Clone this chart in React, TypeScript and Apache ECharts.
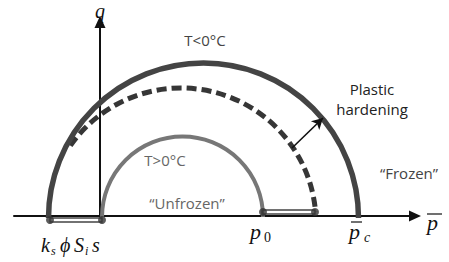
import React, { useEffect, useRef } from "react";
import * as echarts from "echarts";

// Yield-surface arcs (data units: p along the horizontal axis, q along the vertical axis)
const arcNames = ["T<0°C", "hardening", "T>0°C"];
const arcCenterP = [10.35, 8.1, 8.25];
const arcCenterQ = [-0.2, -0.7, -0.1];
const arcRadius = [15.5, 13.5, 8.05];
const arcStartDeg = [180, 145, 180];
const arcEndDeg = [0, 4.7, 0];

// end-point dots
const dotP = [-5.0, 0.2, 16.3, 21.5];
const dotQ = [-0.4, -0.4, 0.4, 0.4];

// hollow bars joining the dots
const barStartP = [-5.0, 16.3];
const barEndP = [0.2, 21.5];
const barQ = [-0.4, 0.4];

// plastic hardening arrow
const arrowFrom = [19.2, 6.8];
const arrowTo = [22.3, 9.8];

const SANS = "'Open Sans', 'DejaVu Sans', sans-serif";
const SERIF = "'Liberation Serif', 'DejaVu Serif', serif";

export default function App() {
  const ref = useRef<HTMLDivElement>(null);
  useEffect(() => {
    if (!ref.current) return;
    const chart = echarts.init(ref.current, null, { renderer: "svg" });

    const arcStyles = [
      { stroke: "#444444", lineWidth: 5.5, lineDash: null as any },
      { stroke: "#363636", lineWidth: 5, lineDash: [10, 5] },
      { stroke: "#777777", lineWidth: 4, lineDash: null as any },
    ];

    const arcSeries = arcNames.map((name, i) => ({
      type: "custom",
      name,
      clip: false,
      silent: true,
      z: i === 0 ? 3 : 2,
      data: [[arcCenterP[i], arcCenterQ[i], arcRadius[i], arcStartDeg[i], arcEndDeg[i]]],
      renderItem: (params: any, api: any) => {
        const c = api.coord([api.value(0), api.value(1)]);
        const r = api.size([api.value(2), 0])[0];
        const s = (-api.value(3) * Math.PI) / 180;
        const e = (-api.value(4) * Math.PI) / 180;
        const st = arcStyles[i];
        return {
          type: "arc",
          shape: { cx: c[0], cy: c[1], r, startAngle: s, endAngle: e, clockwise: true },
          style: { stroke: st.stroke, lineWidth: st.lineWidth, fill: "none", lineDash: st.lineDash },
        };
      },
    }));

    const barSeries = {
      type: "custom",
      clip: false,
      silent: true,
      z: 4,
      data: barStartP.map((p, i) => [p, barEndP[i], barQ[i]]),
      renderItem: (params: any, api: any) => {
        const a = api.coord([api.value(0), api.value(2)]);
        const b = api.coord([api.value(1), api.value(2)]);
        return {
          type: "rect",
          shape: { x: a[0], y: a[1] - 2, width: b[0] - a[0], height: 4 },
          style: { fill: "#ffffff", stroke: "#444444", lineWidth: 1.3 },
        };
      },
    };

    const t = (text: string, x: number, y: number, font: string, fill: string, align = "center") => ({
      type: "text",
      x,
      y,
      silent: true,
      style: { text, font, fill, align, verticalAlign: "middle" },
    });
    const bar = (x1: number, x2: number, y: number) => ({
      type: "line",
      silent: true,
      shape: { x1, y1: y, x2, y2: y },
      style: { stroke: "#111", lineWidth: 1.2 },
    });

    chart.setOption({
      animation: false,
      grid: { left: 14, right: 34, top: 22, bottom: 46, containLabel: false },
      xAxis: {
        type: "value",
        min: -8.6,
        max: 31.5,
        axisLine: {
          show: true,
          onZero: true,
          symbol: ["none", "triangle"],
          symbolSize: [11, 12],
          lineStyle: { color: "#111", width: 2 },
        },
        axisTick: { show: false },
        axisLabel: { show: false },
        splitLine: { show: false },
      },
      yAxis: {
        type: "value",
        min: 0,
        max: 19.4,
        axisLine: {
          show: true,
          onZero: true,
          symbol: ["none", "triangle"],
          symbolSize: [11, 12],
          lineStyle: { color: "#111", width: 2 },
        },
        axisTick: { show: false },
        axisLabel: { show: false },
        splitLine: { show: false },
      },
      series: [
        ...arcSeries,
        barSeries,
        {
          type: "scatter",
          clip: false,
          silent: true,
          z: 5,
          symbolSize: 8,
          itemStyle: { color: "#333333" },
          data: dotP.map((p, i) => [p, dotQ[i]]),
          markLine: {
            silent: true,
            symbol: ["none", "arrow"],
            symbolSize: [9, 11],
            label: { show: false },
            lineStyle: { color: "#111", width: 1.6, type: "solid" },
            data: [[{ coord: arrowFrom }, { coord: arrowTo }]],
          },
        },
      ],
      graphic: [
        t("q", 100, 11, `italic 20px ${SERIF}`, "#111"),
        t("T<0°C", 205, 40, `15px ${SANS}`, "#444"),
        t("Plastic", 372, 89, `15px ${SANS}`, "#222"),
        t("hardening", 372, 109, `15px ${SANS}`, "#222"),
        t("“Frozen”", 409, 173, `15px ${SANS}`, "#444"),
        t("T>0°C", 165, 160, `15px ${SANS}`, "#666"),
        t("“Unfrozen”", 187, 203, `15px ${SANS}`, "#666"),
        // k_s phi S_i s
        t("k", 41, 245, `italic 20px ${SERIF}`, "#111", "left"),
        t("s", 51, 251, `italic 12px ${SERIF}`, "#111", "left"),
        t("ϕ", 60, 245, `italic 20px ${SERIF}`, "#111", "left"),
        t("S", 74, 245, `italic 20px ${SERIF}`, "#111", "left"),
        t("i", 85, 251, `italic 12px ${SERIF}`, "#111", "left"),
        t("s", 92, 245, `italic 20px ${SERIF}`, "#111", "left"),
        // p_0
        t("p", 250, 231, `italic 22px ${SERIF}`, "#111", "left"),
        t("0", 264, 237, `14px ${SERIF}`, "#111", "left"),
        // p-bar_c
        t("p", 349, 231, `italic 22px ${SERIF}`, "#111", "left"),
        bar(351, 362, 222),
        t("c", 364, 237, `italic 14px ${SERIF}`, "#111", "left"),
        // p-bar axis label
        t("p", 427, 222, `italic 22px ${SERIF}`, "#111", "left"),
        bar(427, 442, 214),
      ],
    });
    return () => chart.dispose();
  }, []);
  return <div ref={ref} style={{ position: "absolute", left: 0, top: 0, width: 449, height: 262 }} />;
}
